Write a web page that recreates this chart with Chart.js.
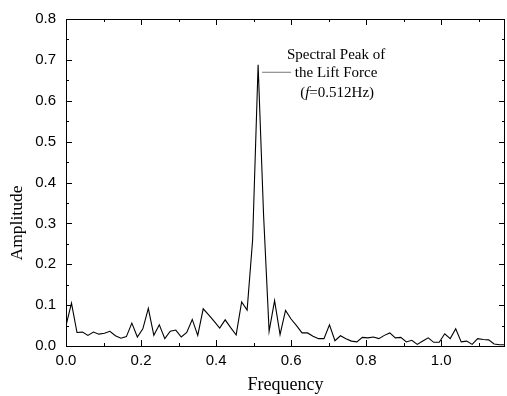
<!DOCTYPE html>
<html lang="en">
<head>
<meta charset="UTF-8">
<title>Spectrum</title>
<script src="https://cdn.jsdelivr.net/npm/chart.js"></script>
<style>
    body { margin: 0; background: #fff; }
    #grafico { display: block; }
</style>
</head>
<body>
<canvas id="grafico" width="507" height="396"></canvas>
<script>
    // frequencias (Hz)
    const frequencias = [
        0.0000, 0.0146, 0.0293, 0.0439, 0.0585, 0.0731, 0.0878, 0.1024, 0.1170, 0.1317,
        0.1463, 0.1609, 0.1755, 0.1902, 0.2048, 0.2194, 0.2341, 0.2487, 0.2633, 0.2779,
        0.2926, 0.3072, 0.3218, 0.3365, 0.3511, 0.3657, 0.3803, 0.3950, 0.4096, 0.4242,
        0.4389, 0.4535, 0.4681, 0.4827, 0.4974, 0.5120, 0.5266, 0.5413, 0.5559, 0.5705,
        0.5851, 0.5998, 0.6144, 0.6290, 0.6437, 0.6583, 0.6729, 0.6875, 0.7022, 0.7168,
        0.7314, 0.7461, 0.7607, 0.7753, 0.7899, 0.8046, 0.8192, 0.8338, 0.8485, 0.8631,
        0.8777, 0.8923, 0.9070, 0.9216, 0.9362, 0.9509, 0.9655, 0.9801, 0.9947, 1.0094,
        1.0240, 1.0386, 1.0533, 1.0679, 1.0825, 1.0971, 1.1118, 1.1264, 1.1410, 1.1557,
        1.1703
    ];

    // amplitude
    const amplitudes = [
        0.050, 0.105, 0.033, 0.034, 0.026, 0.034, 0.029, 0.031, 0.036, 0.025,
        0.019, 0.023, 0.056, 0.022, 0.042, 0.092, 0.026, 0.052, 0.018, 0.036,
        0.039, 0.022, 0.033, 0.065, 0.026, 0.091, 0.076, 0.060, 0.044, 0.064,
        0.045, 0.027, 0.108, 0.088, 0.260, 0.688, 0.320, 0.036, 0.111, 0.028,
        0.087, 0.066, 0.050, 0.032, 0.032, 0.024, 0.018, 0.018, 0.052, 0.013,
        0.025, 0.018, 0.012, 0.010, 0.021, 0.020, 0.022, 0.018, 0.026, 0.032,
        0.020, 0.021, 0.010, 0.014, 0.004, 0.012, 0.020, 0.009, 0.009, 0.030,
        0.018, 0.042, 0.010, 0.012, 0.004, 0.018, 0.016, 0.015, 0.005, 0.003,
        0.003
    ];

    const ticksX = [0, 0.2, 0.4, 0.6, 0.8, 1.0];
    const ticksY = [0, 0.1, 0.2, 0.3, 0.4, 0.5, 0.6, 0.7, 0.8];

    const picoFreq = 0.512;
    const picoAmp = 0.688;
    const anotacao = ['Spectral Peak of', 'the Lift Force'];

    const serif = "'Liberation Serif', 'Times New Roman', serif";
    const sans = "'Liberation Sans', Arial, sans-serif";

    // moldura e ticks para dentro (estilo Origin)
    const molduraPlugin = {
        id: 'moldura',
        afterDraw(chart) {
            const ctx = chart.ctx;
            const area = chart.chartArea;
            const sx = chart.scales.x;
            const sy = chart.scales.y;
            ctx.save();
            ctx.strokeStyle = '#000';
            ctx.lineWidth = 1;
            ctx.strokeRect(area.left + 0.5, area.top + 0.5, area.right - area.left - 1, area.bottom - area.top);

            ctx.beginPath();
            for (let k = 0; k * 0.1 <= sx.max + 1e-9; k++) {
                const px = Math.round(sx.getPixelForValue(k * 0.1)) + 0.5;
                const len = k % 2 === 0 ? 6 : 3;
                ctx.moveTo(px, area.bottom);
                ctx.lineTo(px, area.bottom - len);
                ctx.moveTo(px, area.top);
                ctx.lineTo(px, area.top + len);
            }
            for (let k = 0; k * 0.05 <= sy.max + 1e-9; k++) {
                const py = Math.round(sy.getPixelForValue(k * 0.05)) + 0.5;
                const len = k % 2 === 0 ? 6 : 3;
                ctx.moveTo(area.left, py);
                ctx.lineTo(area.left + len, py);
                ctx.moveTo(area.right, py);
                ctx.lineTo(area.right - len, py);
            }
            ctx.stroke();

            // titulo do eixo y
            ctx.fillStyle = '#000';
            ctx.save();
            ctx.translate(17, 223);
            ctx.rotate(-Math.PI / 2);
            ctx.textAlign = 'center';
            ctx.textBaseline = 'middle';
            ctx.font = '17.5px ' + serif;
            ctx.fillText('Amplitude', 0, 0);
            ctx.restore();

            // anotacao do pico
            const px = sx.getPixelForValue(picoFreq);
            const py = sy.getPixelForValue(picoAmp);
            ctx.strokeStyle = '#777';
            ctx.beginPath();
            ctx.moveTo(px + 4, py + 7.5);
            ctx.lineTo(px + 33, py + 7.5);
            ctx.stroke();

            ctx.textBaseline = 'middle';
            ctx.textAlign = 'center';
            ctx.font = '15px ' + serif;
            const cx = px + 78;
            ctx.fillText(anotacao[0], cx, py - 10);
            ctx.fillText(anotacao[1], cx, py + 8.5);

            const partes = [['(', false], ['f', true], ['=' + picoFreq + 'Hz)', false]];
            let total = 0;
            partes.forEach(p => {
                ctx.font = (p[1] ? 'italic ' : '') + '15px ' + serif;
                total += ctx.measureText(p[0]).width;
            });
            let x = cx - total / 2 + 1;
            ctx.textAlign = 'left';
            partes.forEach(p => {
                ctx.font = (p[1] ? 'italic ' : '') + '15px ' + serif;
                ctx.fillText(p[0], x, py + 28);
                x += ctx.measureText(p[0]).width;
            });
            ctx.restore();
        }
    };

    const ctx = document.getElementById('grafico').getContext('2d');

    const espectro = new Chart(ctx, {
        type: 'line',
        data: {
            datasets: [{
                data: frequencias.map((f, i) => ({ x: f, y: amplitudes[i] })),
                borderColor: '#000',
                borderWidth: 1.1,
                pointRadius: 0,
                fill: false,
                tension: 0
            }]
        },
        options: {
            responsive: false,
            animation: false,
            devicePixelRatio: 1,
            layout: { padding: { top: 16, right: 2, left: 0, bottom: 0 } },
            plugins: {
                legend: { display: false },
                tooltip: { enabled: false }
            },
            scales: {
                x: {
                    type: 'linear',
                    min: 0,
                    max: 1.17,
                    grid: { display: false, drawTicks: false },
                    border: { display: false },
                    afterFit: s => { s.height = 50; },
                    afterBuildTicks: s => { s.ticks = ticksX.map(v => ({ value: v })); },
                    ticks: {
                        color: '#000',
                        padding: 6,
                        maxRotation: 0,
                        font: { family: sans, size: 15 },
                        callback: v => v.toFixed(1)
                    },
                    title: {
                        display: true,
                        text: 'Frequency',
                        color: '#000',
                        padding: { top: 0, bottom: 0 },
                        font: { family: serif, size: 18 }
                    }
                },
                y: {
                    min: 0,
                    max: 0.8,
                    grid: { display: false, drawTicks: false },
                    border: { display: false },
                    afterFit: s => { s.width = 66; },
                    afterBuildTicks: s => { s.ticks = ticksY.map(v => ({ value: v })); },
                    ticks: {
                        color: '#000',
                        padding: 10,
                        font: { family: sans, size: 15 },
                        callback: v => v.toFixed(1)
                    }
                }
            }
        },
        plugins: [molduraPlugin]
    });
</script>
</body>
</html>
